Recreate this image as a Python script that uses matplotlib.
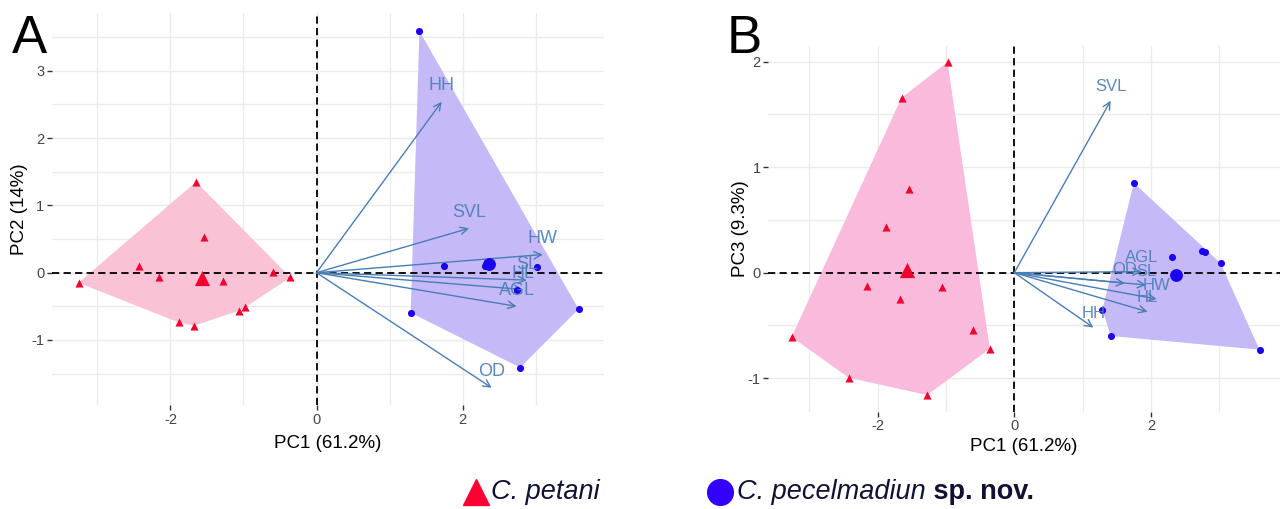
import numpy as np
import matplotlib
matplotlib.use('Agg')
import matplotlib.pyplot as plt
from matplotlib.lines import Line2D

plt.rcParams['font.family'] = ['Liberation Sans', 'DejaVu Sans']
plt.rcParams['axes.unicode_minus'] = False

# ---------------- data ----------------
# C. petani individual scores
petani_pc1 = [-3.26, -1.65, -1.535, -2.425, -2.16, -1.275, -0.60, -0.358, -1.065, -0.978, -1.885, -1.68]
petani_pc2 = [-0.15, 1.35, 0.535, 0.10, -0.06, -0.12, 0.015, -0.07, -0.565, -0.515, -0.74, -0.79]
petani_pc3 = [-0.61, 1.66, 0.79, -0.995, -0.13, -1.16, -0.54, -0.72, -0.14, 1.995, 0.43, -0.25]

# C. pecelmadiun individual scores
pecel_pc1 = [1.41, 1.75, 2.31, 2.75, 2.79, 3.02, 3.59, 1.29]
pecel_pc2 = [3.59, 0.10, 0.10, -0.25, -1.41, 0.08, -0.54, -0.595]
pecel_pc3 = [-0.60, 0.85, 0.146, 0.21, 0.20, 0.09, -0.73, -0.35]

# variable loadings (arrows)
variables = ['HH', 'SVL', 'HW', 'SL', 'HL', 'AGL', 'OD']
arrow_A_pc1 = [1.715, 2.09, 3.10, 2.88, 2.83, 2.74, 2.40]
arrow_A_pc2 = [2.54, 0.66, 0.27, -0.11, -0.25, -0.50, -1.71]
arrow_B_pc1 = [1.157, 1.41, 2.085, 1.93, 1.95, 1.865, 1.62]
arrow_B_pc3 = [-0.52, 1.63, -0.25, -0.117, -0.37, 0.01, -0.10]

xlabel = 'PC1 (61.2%)'
ylabel_A = 'PC2 (14%)'
ylabel_B = 'PC3 (9.3%)'
legend_labels = ['C. petani', 'C. pecelmadiun', ' sp. nov.']

# ---------------- styles ----------------
RED = '#F2002E'
BLUE = '#1A00F5'
ARROW = '#4A7DB5'
GRID = '#EBEBEB'


def hull(x, y):
    pts = sorted(set(zip(x, y)))

    def cross(o, a, b):
        return (a[0] - o[0]) * (b[1] - o[1]) - (a[1] - o[1]) * (b[0] - o[0])
    lower, upper = [], []
    for p in pts:
        while len(lower) >= 2 and cross(lower[-2], lower[-1], p) <= 0:
            lower.pop()
        lower.append(p)
    for p in reversed(pts):
        while len(upper) >= 2 and cross(upper[-2], upper[-1], p) <= 0:
            upper.pop()
        upper.append(p)
    h = lower[:-1] + upper[:-1]
    return [p[0] for p in h], [p[1] for p in h]


def panel(ax, px, py, cx, cy, ax_x, ax_y, ylab, pink, purple, xlim, ylim,
          yminor, label_off, label_fs, xlab_y, ylab_x):
    ax.set_xlim(*xlim)
    ax.set_ylim(*ylim)
    for s in ax.spines.values():
        s.set_visible(False)
    ax.set_xticks([-2, 0, 2])
    ax.set_xticks([-3, -1, 1, 3], minor=True)
    yt = [v for v in range(-3, 5) if ylim[0] < v < ylim[1]]
    ax.set_yticks(yt)
    ax.set_yticks(yminor, minor=True)
    ax.grid(which='both', color=GRID, lw=1.0, zorder=0)
    ax.set_axisbelow(True)
    ax.tick_params(which='major', length=3.5, width=1, color='#333333',
                   labelsize=10.5, labelcolor='#444444', pad=2)
    ax.tick_params(which='minor', length=0)

    hx, hy = hull(px, py)
    ax.fill(hx, hy, color=pink, lw=0, zorder=1)
    hx, hy = hull(cx, cy)
    ax.fill(hx, hy, color=purple, lw=0, zorder=1)

    ax.axhline(0, color='black', lw=1.3, ls=(0, (4, 2.4)), zorder=2)
    ax.axvline(0, color='black', lw=1.3, ls=(0, (4, 2.4)), zorder=2)

    ax.scatter(px, py, marker='^', s=34, color=RED, lw=0, zorder=4)
    ax.scatter([np.mean(px)], [np.mean(py)], marker='^', s=120, color=RED, lw=0, zorder=4)
    ax.scatter(cx, cy, marker='o', s=26, color=BLUE, lw=0, zorder=4)
    ax.scatter([np.mean(cx)], [np.mean(cy)], marker='o', s=85, color=BLUE, lw=0, zorder=4)

    for name, x, y in zip(variables, ax_x, ax_y):
        ax.annotate('', xy=(x, y), xytext=(0, 0),
                    arrowprops=dict(arrowstyle='->', color=ARROW, lw=1.0,
                                    mutation_scale=13, shrinkA=0, shrinkB=0),
                    zorder=3)
        ax.annotate(name, xy=(x, y), xytext=(0, label_off), textcoords='offset points',
                    ha='center', va='center', color=ARROW, alpha=0.9,
                    fontsize=label_fs, zorder=5)

    ax.set_xlabel(xlabel, fontsize=13.5, va='center')
    ax.xaxis.set_label_coords(0.5, xlab_y)
    ax.set_ylabel(ylab, fontsize=13.5, va='center')
    ax.yaxis.set_label_coords(ylab_x, 0.5)


fig = plt.figure(figsize=(12.82, 5.09), dpi=100)

axA = fig.add_axes([52 / 1282, 1 - 405 / 509, 552 / 1282, 392 / 509])
panel(axA, petani_pc1, petani_pc2, pecel_pc1, pecel_pc2, arrow_A_pc1, arrow_A_pc2,
      ylabel_A, '#FAC3D5', '#C6B9F8', (-3.623, 3.938), (-1.966, 3.859),
      [-1.5, -0.5, 0.5, 1.5, 2.5, 3.5], 11.5, 13, -0.097, -0.058)

axB = fig.add_axes([768.3 / 1282, 1 - 411.7 / 509, 511.7 / 1282, 365.7 / 509])
panel(axB, petani_pc1, petani_pc3, pecel_pc1, pecel_pc3, arrow_B_pc1, arrow_B_pc3,
      ylabel_B, '#F9BADC', '#C6B9F8', (-3.602, 3.89), (-1.318, 2.149),
      [-0.5, 0.5, 1.5], 10, 12, -0.096, -0.055)

fig.text(12 / 1282, 1 - 53 / 509, 'A', fontsize=38, va='baseline', ha='left')
fig.text(727 / 1282, 1 - 53 / 509, 'B', fontsize=38, va='baseline', ha='left')

# legend
ly = 1 - 492 / 509
fig.add_artist(Line2D([475.5 / 1282], [ly], marker='^', ms=19, color='#FF0033', lw=0,
                      transform=fig.transFigure))
fig.add_artist(Line2D([720 / 1282], [ly], marker='o', ms=18.5, color='#3300FF', lw=0,
                      transform=fig.transFigure))
fig.text(491 / 1282, ly, legend_labels[0], fontsize=19.5, style='italic',
         color='#111133', va='center', ha='left')
t1 = fig.text(737 / 1282, ly, legend_labels[1], fontsize=19.5, style='italic',
              color='#111133', va='center', ha='left')
fig.add_artist(matplotlib.text.Annotation(legend_labels[2], xy=(1, 0), xycoords=t1,
                                          va='bottom', ha='left', fontsize=19.5,
                                          fontweight='bold', color='#111133'))

fig.savefig('out.png', dpi=100)
